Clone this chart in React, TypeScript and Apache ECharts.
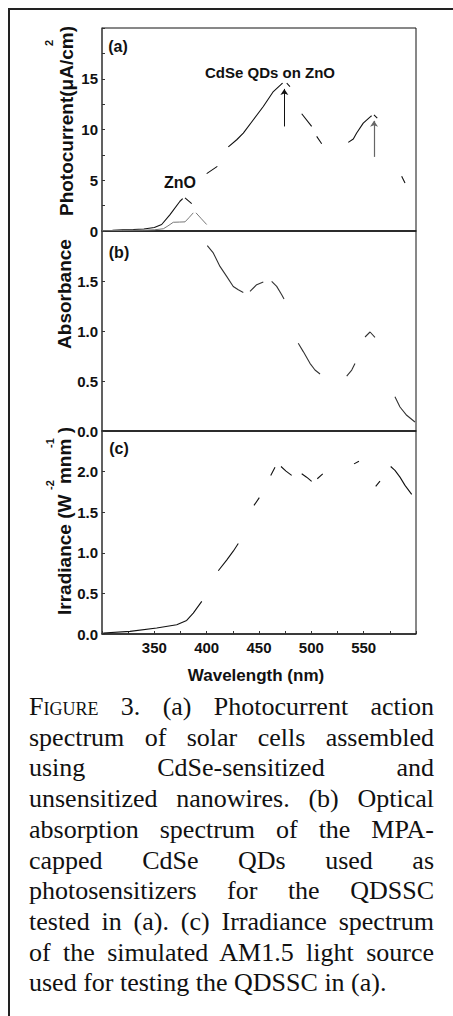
import React, { useEffect, useRef } from "react";
import * as echarts from "echarts";

// ---------- data (wavelength in nm; null = gap in the printed trace) ----------
const cdseNm = [300, 310, 320, 330, 340, 350, 357, 365, 374.5, 377.1, 378, 379.3, 385.7, 392, 400, 410.2, 415, 420.7, 428.7, 435, 444.6, 454.1, 463.7, 471.7, 472.6, 475, 476.5, 479.6, 485, 490.8, 500.3, 503, 505.1, 509.9, 520, 535.3, 540.1, 543.3, 549.6, 556, 557.6, 558.7, 559.8, 563, 575, 586.3, 589.5];
const cdseVal = [0.05, 0.08, 0.12, 0.15, 0.2, 0.35, 0.64, 1.62, 2.93, 3.19, null, 3.26, 2.7, null, 5.65, 6.37, null, 8.28, 8.99, 9.65, 10.96, 12.27, 13.74, 14.5, 14.56, null, 14.56, 14.23, null, 11.55, 10.3, null, 9.32, 8.6, null, 8.73, 9.06, 9.65, 10.63, 11.22, 11.35, null, 11.45, 11.12, null, 5.39, 4.73];

const znoNm = [300, 320, 340, 350, 358.6, 363, 368.1, 374, 379.3, 383, 387.2, 388.5, 389.8, 395, 400];
const znoVal = [0.03, 0.05, 0.08, 0.12, 0.22, 0.5, 0.86, 0.88, 0.9, 1.3, 1.79, null, 1.79, 1.2, 0.64];

const absNm = [400.6, 406.3, 412.7, 419.1, 425.4, 430.2, 435.0, 438, 441.4, 447.8, 454.1, 458, 462.1, 466.9, 471.7, 473.9, 480, 487.5, 492.3, 498.7, 503.5, 508.3, 520, 533.8, 538.6, 541.7, 546, 551.3, 556.1, 560.8, 570, 579.9, 584.7, 591.1, 599.0];
const absVal = [1.854, 1.781, 1.646, 1.546, 1.445, 1.412, 1.386, null, 1.396, 1.463, 1.49, null, 1.496, 1.446, 1.363, 1.32, null, 0.878, 0.794, 0.677, 0.61, 0.57, null, 0.549, 0.609, 0.676, null, 0.94, 0.99, 0.937, null, 0.342, 0.24, 0.157, 0.09];

const irrNm = [301.2, 326.8, 352.3, 371.4, 380.9, 387.2, 395.3, 403, 411.1, 419.1, 425.4, 430.2, 438, 445.2, 450.3, 455, 461.2, 465.3, 468, 471.0, 475.8, 481.2, 486, 490.8, 495.5, 500.3, 503, 505.7, 510.9, 525, 540.8, 545.5, 553, 561.5, 565.6, 570, 575.8, 579.9, 584.7, 589.5, 595.9];
const irrVal = [0.012, 0.032, 0.073, 0.114, 0.167, 0.257, 0.401, null, 0.779, 0.91, 1.02, 1.115, null, 1.584, 1.679, null, 1.952, 2.054, null, 2.063, 2.006, 1.953, null, 1.973, 1.931, 1.879, null, 1.912, 1.973, null, 2.095, 2.127, null, 1.817, 1.882, null, 2.063, 2.015, 1.932, 1.83, 1.72];

// arrows in panel (a): [wavelength, from value, to value]
const arrowBlack = [474.2, 10.3, 14.0];
const arrowGray = [559.9, 7.3, 10.85];

// axis ranges / ticks
const xRange = [300, 600];
const xTickStep = 25;
const yRanges = [
  [0, 20, 2.5],
  [0, 2, 0.5],
  [0, 2.5, 0.5],
];

const captionLines = [
  "3. (a) Photocurrent action",
  "spectrum of solar cells assembled",
  "using CdSe-sensitized and",
  "unsensitized nanowires. (b) Optical",
  "absorption spectrum of the MPA-",
  "capped CdSe QDs used as",
  "photosensitizers for the QDSSC",
  "tested in (a).  (c) Irradiance spectrum",
  "of the simulated AM1.5 light source",
  "used for testing the QDSSC in (a).",
];

const FONT = '"Liberation Sans", Arial, Helvetica, sans-serif';

function pairs(xs: number[], ys: (number | null)[]) {
  return xs.map((x, i) => (ys[i] === null ? [x, "-"] : [x, ys[i]]));
}

function txt(x: number, y: number, text: string, size: number, rot = 0, extra: any = {}) {
  return {
    type: "text",
    x,
    y,
    rotation: rot,
    z: 100,
    style: {
      text,
      fontSize: size,
      fontWeight: "bold",
      fontFamily: FONT,
      fill: "#111",
      textAlign: "center",
      textVerticalAlign: "middle",
      align: "center",
      verticalAlign: "middle",
      ...extra,
    },
  };
}

export default function App() {
  const ref = useRef<HTMLDivElement>(null);

  useEffect(() => {
    document.body.style.margin = "0";
    document.documentElement.style.overflow = "hidden";
    const chart = echarts.init(ref.current!, null, { renderer: "svg" });

    const gridDefs = [
      { top: 28, height: 203 },
      { top: 231, height: 200 },
      { top: 431, height: 203 },
    ];

    const option: any = {
      animation: false,
      backgroundColor: "transparent",
      grid: gridDefs.map((g) => ({
        left: 102,
        width: 314,
        top: g.top,
        height: g.height,
        show: true,
        borderColor: "#111",
        borderWidth: 1,
      })),
      xAxis: [0, 1, 2].map((i) => ({
        type: "value",
        gridIndex: i,
        min: xRange[0],
        max: xRange[1],
        interval: xTickStep,
        axisLine: { show: true, onZero: false, lineStyle: { color: "#222", width: 1.5 } },
        axisTick: { show: i === 2, inside: true, length: 3, lineStyle: { color: "#333", width: 1 } },
        axisLabel: {
          show: i === 2,
          margin: 6,
          fontSize: 15,
          fontWeight: "bold",
          fontFamily: FONT,
          color: "#111",
          formatter: (v: number) => (v % 50 === 0 && v > xRange[0] && v < xRange[1] ? String(v) : ""),
        },
        splitLine: { show: false },
      })),
      yAxis: [0, 1, 2].map((i) => ({
        type: "value",
        gridIndex: i,
        min: yRanges[i][0],
        max: yRanges[i][1],
        interval: yRanges[i][2],
        axisLine: { show: true, onZero: false, lineStyle: { color: "#555", width: 1.5 } },
        axisTick: { show: true, inside: true, length: 3, lineStyle: { color: "#333", width: 1 } },
        axisLabel: {
          margin: 4,
          fontSize: 15,
          fontWeight: "bold",
          fontFamily: FONT,
          color: "#111",
          formatter: (v: number) => {
            if (v >= yRanges[i][1] - 1e-9) return "";
            if (i === 0) return v % 5 === 0 ? String(v) : "";
            return v.toFixed(1);
          },
        },
        splitLine: { show: false },
      })),
      series: [
        {
          name: "CdSe QDs on ZnO",
          type: "line",
          xAxisIndex: 0,
          yAxisIndex: 0,
          data: pairs(cdseNm, cdseVal),
          showSymbol: false,
          connectNulls: false,
          lineStyle: { color: "#111", width: 1.1 },
          markLine: {
            silent: true,
            symbol: ["none", "arrow"],
            symbolSize: 6,
            label: { show: false },
            data: [
              [
                { coord: [arrowBlack[0], arrowBlack[1]], lineStyle: { color: "#111", width: 1, type: "solid" } },
                { coord: [arrowBlack[0], arrowBlack[2]] },
              ],
              [
                { coord: [arrowGray[0], arrowGray[1]], lineStyle: { color: "#666", width: 1.2, type: "solid" } },
                { coord: [arrowGray[0], arrowGray[2]] },
              ],
            ],
          },
        },
        {
          name: "ZnO",
          type: "line",
          xAxisIndex: 0,
          yAxisIndex: 0,
          data: pairs(znoNm, znoVal),
          showSymbol: false,
          connectNulls: false,
          lineStyle: { color: "#777", width: 1 },
        },
        {
          name: "Absorbance",
          type: "line",
          xAxisIndex: 1,
          yAxisIndex: 1,
          data: pairs(absNm, absVal),
          showSymbol: false,
          connectNulls: false,
          lineStyle: { color: "#333", width: 1.1 },
        },
        {
          name: "Irradiance",
          type: "line",
          xAxisIndex: 2,
          yAxisIndex: 2,
          data: pairs(irrNm, irrVal),
          showSymbol: false,
          connectNulls: false,
          lineStyle: { color: "#111", width: 1.1 },
        },
      ],
      graphic: [
        txt(118, 46, "(a)", 16),
        txt(119, 252, "(b)", 16),
        txt(119, 448, "(c)", 16),
        txt(270, 72, "CdSe QDs on ZnO", 15),
        txt(180, 182, "ZnO", 16),
        txt(66, 121, "Photocurrent(μA/cm)", 19, Math.PI / 2),
        txt(49, 43, "2", 11, Math.PI / 2),
        txt(64, 294, "Absorbance", 19, Math.PI / 2),
        txt(64, 521, "Irradiance (W  mnm )", 19, Math.PI / 2),
        txt(50, 485, "-2", 11, Math.PI / 2),
        txt(50, 443, "-1", 11, Math.PI / 2),
        txt(256, 675, "Wavelength (nm)", 17),
      ],
    };

    chart.setOption(option);
    return () => chart.dispose();
  }, []);

  const serif = '"Liberation Serif", "Times New Roman", Times, serif';

  return (
    <div style={{ position: "relative", width: 453, height: 1016 }}>
      <div
        style={{
          position: "absolute",
          left: 8,
          top: 8,
          width: 460,
          height: 1020,
          borderTop: "2px solid #222",
          borderLeft: "2px solid #222",
          boxSizing: "border-box",
        }}
      />
      <div ref={ref} style={{ position: "absolute", left: 0, top: 0, width: 453, height: 690 }} />
      <div
        style={{
          position: "absolute",
          left: 29,
          top: 692,
          width: 405,
          fontFamily: serif,
          fontSize: 26,
          lineHeight: "30.7px",
          color: "#111",
        }}
      >
        {captionLines.map((line, i) => (
          <div
            key={i}
            style={{
              textAlign: i === captionLines.length - 1 ? "left" : "justify",
              textAlignLast: i === captionLines.length - 1 ? "left" : "justify",
              whiteSpace: "nowrap",
            } as any}
          >
            {i === 0 ? (
              <>
                <span style={{ fontVariant: "small-caps" }}>Figure</span> {line}
              </>
            ) : (
              line
            )}
          </div>
        ))}
      </div>
    </div>
  );
}
